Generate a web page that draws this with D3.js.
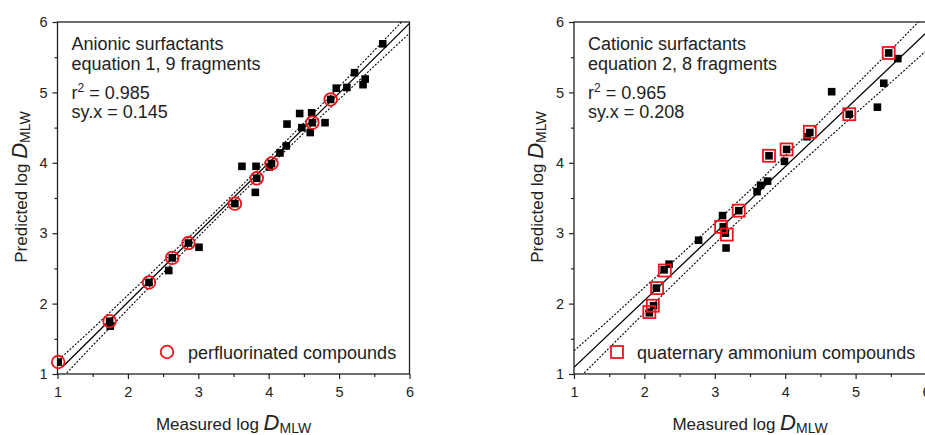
<!DOCTYPE html>
<html>
<head>
<meta charset="utf-8">
<script src="https://cdn.jsdelivr.net/npm/d3@7"></script>
<style>
  body { margin: 0; background: #fff; }
  svg text { font-family: "Liberation Sans", Arial, sans-serif; fill: #222; }
</style>
</head>
<body>
<div id="wrapper"></div>
<script>
/* data */
const majorTicks = [1, 2, 3, 4, 5, 6];
const minorTicks = [1.5, 2.5, 3.5, 4.5, 5.5];

// anionic surfactants (left)
const anionicMeasured  = [5.62, 5.22, 5.37, 5.34, 5.11, 4.96, 4.88, 4.80, 4.62, 4.61, 4.44, 4.47, 4.59, 4.26, 4.25, 4.16, 4.04, 4.01, 3.62, 3.82, 3.83, 3.81, 3.52, 2.86, 3.01, 2.63, 2.58, 2.30, 1.74, 1.75, 1.01];
const anionicPredicted = [5.69, 5.28, 5.19, 5.11, 5.07, 5.06, 4.90, 4.57, 4.57, 4.71, 4.70, 4.50, 4.43, 4.55, 4.24, 4.14, 3.99, 3.94, 3.95, 3.95, 3.78, 3.58, 3.42, 2.86, 2.80, 2.65, 2.47, 2.30, 1.75, 1.68, 1.17];
const pfcMeasured  = [1.01, 1.74, 2.30, 2.63, 2.86, 3.52, 3.83, 4.04, 4.62, 4.88];
const pfcPredicted = [1.17, 1.75, 2.30, 2.65, 2.86, 3.42, 3.78, 3.99, 4.57, 4.90];
const anionicFitX = [1.07, 6];
const anionicFitY = [1.10, 5.98];
const anionicBandX     = [1.06, 1.5, 2, 2.5, 3, 3.5, 4, 4.5, 5, 5.5, 6];
const anionicBandUpper = [1.24, 1.645, 2.12, 2.595, 3.07, 3.56, 4.06, 4.565, 5.08, 5.595, 6.12];
const anionicBandLower = [0.94, 1.405, 1.92, 2.435, 2.95, 3.45, 3.94, 4.425, 4.90, 5.375, 5.84];
const anionicText = ["Anionic surfactants", "equation 1, 9 fragments", "0.985", "0.145"];

// cationic surfactants (right)
const cationicMeasured  = [5.47, 5.60, 5.40, 5.31, 4.66, 4.91, 4.35, 4.31, 4.02, 3.99, 3.77, 3.75, 3.65, 3.60, 3.34, 3.11, 3.12, 3.15, 3.16, 2.77, 2.35, 2.28, 2.17, 2.13, 2.07];
const cationicPredicted = [5.56, 5.48, 5.13, 4.79, 5.01, 4.69, 4.43, 4.37, 4.19, 4.02, 4.10, 3.74, 3.68, 3.59, 3.32, 3.25, 3.09, 3.00, 2.79, 2.90, 2.56, 2.48, 2.22, 1.97, 1.87];
const quatMeasured  = [5.47, 4.91, 4.35, 4.02, 3.77, 3.34, 3.09, 3.17, 2.29, 2.18, 2.12, 2.07];
const quatPredicted = [5.56, 4.69, 4.44, 4.19, 4.10, 3.32, 3.09, 2.98, 2.47, 2.22, 1.97, 1.88];
const cationicFitX = [1, 6];
const cationicFitY = [1.095, 5.845];
const cationicBandX     = [1, 1.5, 2, 2.5, 3, 3.5, 4, 4.5, 5, 5.5, 6];
const cationicBandUpper = [1.33, 1.77, 2.23, 2.68, 3.14, 3.61, 4.10, 4.59, 5.10, 5.60, 6.11];
const cationicBandLower = [0.87, 1.37, 1.87, 2.36, 2.85, 3.33, 3.80, 4.25, 4.70, 5.14, 5.59];
const cationicText = ["Cationic surfactants", "equation 2, 8 fragments", "0.965", "0.208"];

/* layout */
const dimensions = { width: 925, height: 435, top: 22, bottom: 374, size: 352 };
const red = "#f0141a";

const svg = d3.select("#wrapper")
  .append("svg")
  .attr("width", dimensions.width)
  .attr("height", dimensions.height);

function drawPanel(p) {
  const xScale = d3.scaleLinear().domain([1, 6]).range([p.left, p.left + dimensions.size]);
  const yScale = d3.scaleLinear().domain([1, 6]).range([dimensions.bottom, dimensions.top]);

  const g = svg.append("g");

  g.append("clipPath").attr("id", p.id + "-clip")
    .append("rect")
    .attr("x", p.left).attr("y", dimensions.top)
    .attr("width", dimensions.size).attr("height", dimensions.size);

  // axes
  g.append("g")
    .attr("transform", `translate(0,${dimensions.bottom})`)
    .call(d3.axisBottom(xScale).tickValues(majorTicks).tickFormat(d3.format("d"))
      .tickSize(5).tickSizeOuter(0).tickPadding(8));
  g.append("g")
    .attr("transform", `translate(0,${dimensions.bottom})`)
    .call(d3.axisBottom(xScale).tickValues(minorTicks).tickFormat("").tickSize(3).tickSizeOuter(0));
  g.append("g")
    .attr("transform", `translate(${p.left},0)`)
    .call(d3.axisLeft(yScale).tickValues(majorTicks).tickFormat(d3.format("d"))
      .tickSize(5).tickSizeOuter(0).tickPadding(5));
  g.append("g")
    .attr("transform", `translate(${p.left},0)`)
    .call(d3.axisLeft(yScale).tickValues(minorTicks).tickFormat("").tickSize(3).tickSizeOuter(0));
  g.selectAll(".domain").remove();
  g.selectAll(".tick line").attr("stroke", "#222").attr("stroke-width", 1.2);
  g.selectAll(".tick text").style("font-size", "14.5px").attr("fill", "#222");

  // frame
  g.append("rect")
    .attr("x", p.left).attr("y", dimensions.top)
    .attr("width", dimensions.size).attr("height", dimensions.size)
    .attr("fill", "none").attr("stroke", "#222").attr("stroke-width", 1.3);

  // regression + band
  const plot = g.append("g").attr("clip-path", `url(#${p.id}-clip)`);
  const line = d3.line().x(d => xScale(d[0])).y(d => yScale(d[1]));
  plot.append("path")
    .attr("d", line(p.fitX.map((x, i) => [x, p.fitY[i]])))
    .attr("fill", "none").attr("stroke", "#000").attr("stroke-width", 1.3);
  [p.bandUpper, p.bandLower].forEach(band => {
    plot.append("path")
      .attr("d", line(p.bandX.map((x, i) => [x, band[i]])))
      .attr("fill", "none").attr("stroke", "#000").attr("stroke-width", 1.1)
      .attr("stroke-dasharray", "2,1.6");
  });

  // black points
  plot.selectAll("rect.pt")
    .data(p.measured.map((m, i) => [m, p.predicted[i]]))
    .enter().append("rect")
    .attr("class", "pt")
    .attr("x", d => xScale(d[0]) - 3.8)
    .attr("y", d => yScale(d[1]) - 3.8)
    .attr("width", 7.6).attr("height", 7.6)
    .attr("fill", "#000");

  // highlighted compounds
  const hi = p.hiMeasured.map((m, i) => [m, p.hiPredicted[i]]);
  if (p.marker === "circle") {
    g.selectAll("circle.hi").data(hi).enter().append("circle")
      .attr("class", "hi")
      .attr("cx", d => xScale(d[0])).attr("cy", d => yScale(d[1]))
      .attr("r", 6.3)
      .attr("fill", "none").attr("stroke", red).attr("stroke-width", 1.8);
  } else {
    g.selectAll("rect.hi").data(hi).enter().append("rect")
      .attr("class", "hi")
      .attr("x", d => xScale(d[0]) - 6).attr("y", d => yScale(d[1]) - 6)
      .attr("width", 12).attr("height", 12)
      .attr("fill", "none").attr("stroke", red).attr("stroke-width", 1.8);
  }

  // annotation text
  const tx = p.left + 14;
  g.append("text").attr("x", tx).attr("y", 50).style("font-size", "18px").text(p.text[0]);
  g.append("text").attr("x", tx).attr("y", 70).style("font-size", "18px").text(p.text[1]);
  const r2 = g.append("text").attr("x", tx).attr("y", 99).style("font-size", "18px");
  r2.append("tspan").text("r");
  r2.append("tspan").attr("dy", -7).style("font-size", "12px").text("2");
  r2.append("tspan").attr("dy", 7).text(" = " + p.text[2]);
  g.append("text").attr("x", tx).attr("y", 118).style("font-size", "18px").text("sy.x = " + p.text[3]);

  // legend
  const ly = 352;
  if (p.marker === "circle") {
    g.append("circle").attr("cx", p.left + 109.5).attr("cy", ly).attr("r", 6.3)
      .attr("fill", "none").attr("stroke", red).attr("stroke-width", 1.8);
  } else {
    g.append("rect").attr("x", p.left + 37).attr("y", ly - 6).attr("width", 12).attr("height", 12)
      .attr("fill", "none").attr("stroke", red).attr("stroke-width", 1.8);
  }
  g.append("text").attr("x", p.legendX).attr("y", ly + 6.5).style("font-size", "18px").text(p.legendLabel);

  // axis titles
  const xt = g.append("text")
    .attr("x", p.left + dimensions.size / 2).attr("y", 430)
    .attr("text-anchor", "middle").style("font-size", "17px");
  xt.append("tspan").text("Measured log ");
  xt.append("tspan").style("font-style", "italic").style("font-size", "22px").text("D");
  xt.append("tspan").attr("dy", 3).style("font-size", "14px").text("MLW");

  const yt = g.append("text")
    .attr("transform", `translate(${p.left - 31},187) rotate(-90)`)
    .attr("text-anchor", "middle").style("font-size", "17px");
  yt.append("tspan").text("Predicted log ");
  yt.append("tspan").style("font-style", "italic").style("font-size", "22px").text("D");
  yt.append("tspan").attr("dy", 3).style("font-size", "14px").text("MLW");
}

drawPanel({
  id: "anionic", left: 57.5,
  measured: anionicMeasured, predicted: anionicPredicted,
  hiMeasured: pfcMeasured, hiPredicted: pfcPredicted, marker: "circle",
  fitX: anionicFitX, fitY: anionicFitY,
  bandX: anionicBandX, bandUpper: anionicBandUpper, bandLower: anionicBandLower,
  text: anionicText, legendLabel: "perfluorinated compounds", legendX: 188
});

drawPanel({
  id: "cationic", left: 574,
  measured: cationicMeasured, predicted: cationicPredicted,
  hiMeasured: quatMeasured, hiPredicted: quatPredicted, marker: "square",
  fitX: cationicFitX, fitY: cationicFitY,
  bandX: cationicBandX, bandUpper: cationicBandUpper, bandLower: cationicBandLower,
  text: cationicText, legendLabel: "quaternary ammonium compounds", legendX: 637
});
</script>
</body>
</html>
